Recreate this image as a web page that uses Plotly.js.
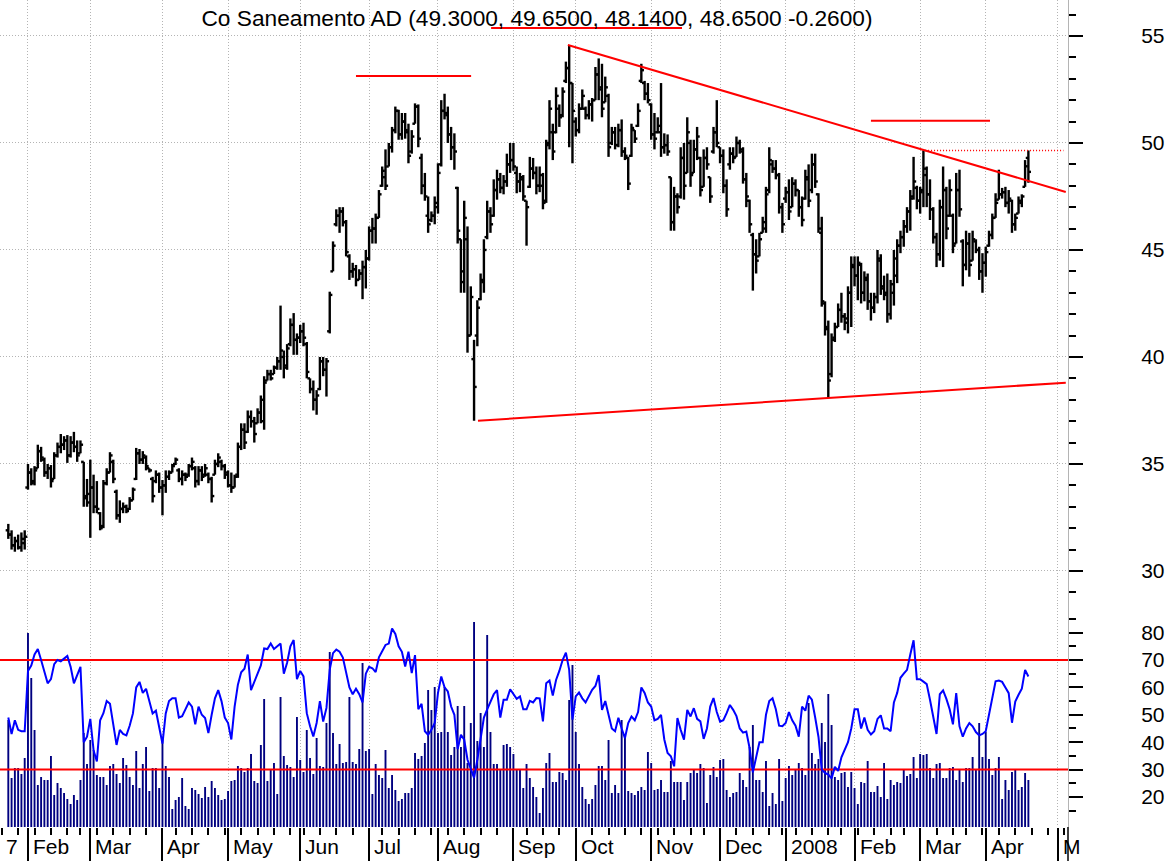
<!DOCTYPE html>
<html><head><meta charset="utf-8">
<script src="https://cdn.plot.ly/plotly-3.0.1.min.js"></script>
<style>html,body{margin:0;padding:0;background:#fff}#chart{width:1166px;height:861px}</style>
</head><body><div id="chart"></div>
<script>
// ---------------- DATA ----------------
const stockName = 'Co Saneamento AD';
const firstDate = '2007-01-24'; // date of bar index 0

const opens = [31.9,31.7,31.2,31.4,31.1,31.3,33.9,34.6,34.2,34.8,
35.6,35.2,34.6,34.8,34.3,35.4,35.8,35.9,36.1,35.4,
36.0,35.8,35.5,35.1,33.5,33.2,33.9,33.0,32.7,32.1,
34.1,34.6,35.1,33.7,32.6,32.9,33.0,32.9,33.3,34.3,
35.5,35.2,35.3,34.8,34.3,34.2,34.5,33.9,34.0,34.4,
34.6,35.0,34.7,34.3,34.5,34.5,34.9,34.8,34.2,34.7,
34.5,34.5,34.3,34.5,35.0,35.1,34.9,34.6,34.0,33.9,
34.5,35.8,36.6,36.5,37.2,37.0,36.9,37.4,37.0,38.9,
39.2,39.2,39.5,39.8,40.0,39.6,40.6,41.5,40.8,40.9,
41.2,40.6,39.0,38.5,38.0,38.5,39.8,39.4,41.2,44.0,
46.2,46.6,46.8,46.3,44.7,44.0,44.1,43.6,43.9,44.2,
44.6,45.9,46.0,46.5,48.0,48.4,48.9,49.8,50.6,51.5,
50.4,51.0,50.5,49.6,50.9,51.7,49.3,48.0,46.6,46.4,
46.6,47.0,49.0,51.5,51.3,50.4,49.8,47.9,45.5,44.0,
45.5,41.0,39.9,41.0,42.7,43.5,45.6,46.8,46.6,47.8,
48.3,47.9,48.2,49.0,49.2,48.6,48.2,48.3,47.3,47.95,
48.8,48.6,48.0,48.0,47.3,50.0,50.5,50.5,51.6,51.3,
52.9,53.5,52.8,51.0,50.6,51.6,51.6,51.3,51.8,52.0,
53.2,52.6,51.9,52.2,50.0,50.5,49.9,50.6,49.6,49.3,
49.4,50.6,50.8,52.9,52.8,52.3,51.8,50.4,50.5,50.5,
49.8,49.9,48.4,46.3,47.5,47.5,49.3,48.6,50.0,48.6,
49.7,49.3,47.95,49.3,48.4,49.6,50.5,49.8,49.4,48.0,
49.0,49.5,49.35,50.0,49.6,48.3,47.3,45.7,44.8,44.7,
45.8,46.0,47.8,49.0,48.8,48.5,47.0,47.4,47.7,47.0,
48.1,47.8,47.0,47.4,48.3,47.8,49.0,47.6,45.8,42.5,
41.3,39.2,40.9,41.4,42.2,41.9,41.8,43.0,44.2,43.8,
44.3,43.0,43.6,42.6,42.3,42.8,44.5,43.2,43.0,42.0,
43.0,43.8,45.2,45.6,46.1,46.8,47.5,47.9,47.3,47.8,
48.5,47.6,46.9,45.6,44.8,47.0,47.8,46.6,46.6,45.3,
47.8,45.4,44.3,45.3,44.5,45.4,45.0,44.0,44.4,45.2,
45.7,46.5,47.35,47.6,47.7,47.2,47.3,46.2,46.7,47.2,
47.95,49.30];

const highs = [32.2,31.9,31.6,31.7,31.8,31.9,35.0,34.8,34.9,35.9,
35.8,35.3,35.0,34.95,35.55,36.0,36.4,36.3,36.35,36.3,
36.5,36.1,36.1,35.1,34.3,35.2,34.5,34.2,32.75,34.25,
34.8,35.55,35.2,33.8,33.3,33.2,33.1,33.45,33.9,35.75,
35.7,35.6,35.4,34.8,34.4,34.7,34.6,34.25,34.7,34.7,
35.0,35.3,34.8,34.7,34.6,35.0,35.3,34.9,34.9,34.9,
35.0,34.6,34.4,35.2,35.5,35.2,35.0,34.7,34.6,34.5,
36.0,36.9,36.9,37.5,37.5,37.2,37.6,38.2,39.1,39.4,
39.4,39.6,40.0,42.4,40.3,40.6,41.8,42.05,41.1,41.5,
41.6,40.7,39.0,38.9,38.45,40.0,40.0,39.95,43.05,45.4,
46.9,47.0,47.0,46.4,44.8,44.4,44.3,44.1,44.5,45.0,
46.1,46.5,46.7,47.8,48.9,49.7,50.0,50.75,51.7,51.55,
51.4,51.4,50.9,50.6,51.85,51.8,49.5,48.6,47.5,46.8,
47.5,49.05,52.0,52.3,51.7,50.75,50.45,47.95,45.5,47.3,
46.1,43.3,40.8,42.65,43.9,45.5,47.3,47.0,48.3,48.75,
48.6,48.5,49.5,50.0,50.0,48.9,48.6,48.5,47.3,49.35,
49.3,48.9,48.9,48.6,50.15,52.0,50.9,52.6,51.8,52.6,
53.8,54.58,52.8,51.2,51.85,52.5,51.7,52.0,52.1,53.55,
53.95,53.7,53.1,52.3,50.75,50.75,50.9,51.1,49.8,49.35,
50.9,50.6,51.85,53.7,52.9,52.8,51.85,51.4,51.2,52.8,
50.45,50.4,48.4,47.95,47.65,49.8,50.0,51.2,50.15,50.15,
50.75,49.35,49.7,49.8,48.4,50.75,52.0,49.8,49.7,48.3,
49.8,49.8,50.3,50.15,49.8,48.6,47.35,45.8,45.5,45.8,
46.55,47.95,49.8,49.2,49.2,48.6,47.2,47.95,48.3,48.4,
48.3,47.8,47.5,48.75,49.0,49.5,49.5,47.65,46.55,42.6,
41.7,41.1,41.6,42.5,43.0,42.05,43.3,44.7,44.7,44.7,
44.4,44.0,43.9,43.0,43.0,45.0,44.8,43.8,43.9,43.6,
45.0,45.5,45.9,46.4,47.0,47.8,49.35,48.0,47.95,49.65,
48.9,48.3,47.0,45.8,47.35,48.9,47.95,48.3,46.7,48.6,
48.75,45.5,45.9,45.8,45.9,45.5,45.15,44.85,45.15,45.9,
46.7,47.65,48.75,47.9,47.95,47.8,47.35,46.7,47.5,47.6,
49.2,49.65];

const lows = [31.5,31.0,30.9,31.0,30.9,31.0,33.8,34.0,34.0,34.8,
35.1,34.4,34.3,33.9,34.3,35.3,35.5,35.65,35.05,35.3,
35.55,35.1,35.5,33.0,33.0,31.55,32.7,32.7,31.9,32.0,
34.0,34.6,34.1,32.4,32.25,32.7,32.7,32.85,33.3,34.25,
35.0,35.0,34.7,34.6,33.2,34.1,33.65,32.6,33.65,34.25,
34.6,34.95,34.15,34.0,34.2,34.4,34.7,33.9,34.0,34.2,
34.4,34.1,33.2,34.5,34.85,34.7,34.3,33.9,33.65,33.9,
34.35,35.65,35.7,36.45,36.7,36.0,36.9,36.9,36.6,38.9,
38.9,39.2,39.4,39.4,39.0,39.4,40.5,40.1,40.1,40.65,
40.5,39.0,38.3,37.5,37.3,38.45,39.1,38.15,41.1,44.0,
46.1,45.8,46.1,44.7,43.6,43.7,43.3,43.6,42.7,43.2,
44.5,45.3,45.3,46.5,47.95,47.8,48.9,49.55,50.45,50.15,
50.15,50.2,49.05,49.5,50.9,49.8,47.6,47.3,45.8,46.3,
46.2,46.7,48.9,51.1,50.0,49.2,48.75,45.3,43.0,43.0,
40.2,41.0,37.02,40.5,42.65,43.0,45.5,45.8,46.55,47.35,
47.65,47.6,47.95,48.6,48.7,47.65,47.7,47.3,45.2,47.9,
48.3,47.6,47.7,46.9,47.2,49.7,49.2,50.45,50.75,51.2,
52.8,49.8,49.05,50.3,50.45,51.55,51.1,51.1,51.0,52.0,
52.0,51.2,51.9,49.35,49.9,49.7,49.8,49.35,49.2,47.8,
49.35,50.0,50.75,52.8,52.0,51.85,50.15,49.7,50.45,49.35,
49.5,49.4,45.9,45.9,46.7,47.4,47.35,48.6,47.95,48.6,
49.2,47.5,47.95,48.75,47.2,49.5,49.8,49.05,47.65,46.55,
48.75,49.05,49.35,49.5,48.1,47.0,45.8,43.1,43.9,44.7,
45.8,45.8,47.65,48.6,48.3,46.7,45.8,47.2,46.4,47.0,
47.5,46.55,46.1,47.35,47.0,47.65,47.9,45.8,42.35,41.0,
38.1,39.05,40.7,41.4,41.6,41.25,41.1,41.4,43.3,42.65,
42.5,42.6,42.2,41.7,42.05,42.5,42.9,42.65,41.6,41.75,
42.4,43.45,44.85,45.15,45.8,45.9,47.35,46.9,46.7,47.0,
47.0,46.4,45.3,44.2,44.5,44.2,45.5,46.55,44.85,45.3,
46.55,43.3,44.05,43.75,44.5,44.85,43.6,43.0,43.75,45.15,
45.5,46.5,47.35,47.4,47.0,46.7,45.8,45.9,46.7,47.0,
47.95,48.14];

const closes = [31.7,31.2,31.4,31.1,31.5,31.6,34.6,34.1,34.7,35.6,
35.3,34.6,34.8,34.2,35.4,35.8,35.9,36.1,35.4,36.0,
35.8,35.4,35.9,33.4,33.6,33.9,33.0,32.9,32.0,34.1,
34.6,35.4,34.3,32.6,32.9,33.0,32.8,33.3,33.8,35.5,
35.2,35.4,34.9,34.7,33.5,34.5,33.9,34.0,34.4,34.6,
34.9,35.2,34.3,34.5,34.4,34.9,35.1,34.2,34.7,34.4,
34.8,34.3,33.5,35.0,35.3,34.9,34.5,34.0,33.9,34.4,
35.8,36.6,36.0,37.2,37.0,36.4,37.4,38.0,38.8,39.2,
39.0,39.5,39.8,40.3,39.5,40.4,41.5,40.8,40.9,41.2,
40.9,39.3,38.5,38.0,38.2,39.8,39.4,39.8,42.9,45.2,
46.6,46.8,46.3,44.9,44.0,44.1,43.6,43.9,44.2,44.6,
45.9,46.0,46.5,47.6,48.7,48.0,49.8,50.6,51.5,50.4,
51.0,50.6,49.4,50.3,51.7,50.2,48.0,47.5,46.2,46.6,
47.2,48.6,51.5,51.4,50.4,49.8,49.6,45.9,43.5,46.5,
41.0,42.8,38.6,42.3,43.6,45.0,46.8,46.2,47.8,48.3,
47.9,48.2,49.0,49.2,48.9,48.2,48.4,47.5,47.0,48.8,
48.6,48.0,48.5,47.2,49.9,51.6,49.6,52.2,51.2,52.4,
53.5,52.8,51.5,50.6,51.6,52.2,51.3,51.8,52.0,53.2,
52.5,51.6,52.6,49.8,50.5,49.9,50.6,49.6,49.4,48.1,
50.7,50.2,51.5,53.4,52.3,52.0,50.4,50.2,50.8,49.8,
49.9,49.6,46.3,47.5,47.0,49.3,48.0,50.5,48.5,49.7,
50.3,47.8,49.3,49.0,47.5,50.5,50.0,49.4,48.0,46.9,
49.5,49.3,50.0,49.7,48.3,47.5,46.2,44.8,44.5,45.5,
46.3,47.6,49.2,48.8,48.5,47.0,46.2,47.7,46.8,48.1,
47.8,47.0,46.4,48.4,47.3,49.0,48.2,46.0,42.6,41.4,
38.9,40.8,41.4,42.2,41.9,41.6,43.0,44.3,43.8,44.4,
43.0,43.7,42.6,42.3,42.8,44.6,43.3,42.9,42.0,43.4,
44.6,45.2,45.6,46.1,46.8,47.4,48.2,47.3,47.7,48.8,
47.6,46.9,45.6,44.8,47.0,47.8,46.0,47.8,45.2,47.8,
46.9,44.3,45.3,44.3,45.5,45.0,44.0,44.4,44.9,45.7,
46.5,47.2,47.6,47.7,47.2,47.4,46.2,46.5,47.3,47.5,
48.91,48.65];

const rsi = [49,43,48,44.5,44,44,66,68,72,74,
70,66,61.5,63,68.5,70,69.5,70.5,71.5,67.5,
61.5,64.5,67.5,40,42,48.5,37,33,48,50.6,
55,54,47,39,44.5,43,42.5,46,50.5,60,
62,58,59.5,55,50.5,51.5,46,39.5,50.5,55,
56,56,49,49.5,52,54.5,53,46.5,53,50,
48.8,43.3,50,56,59,55,49,47,41,53,
61,65.5,66.8,72,59,62,64.5,68,74.2,74,
76,74,75,76,65,69,75,77.3,63,66,
64,50.6,45.8,42.1,47,55,47.5,52.5,66.5,72.5,
73.8,73,70.9,65,60,57.5,59.5,57.5,54.5,65,
67.5,67,65.6,71,73.5,75.5,76,81.5,79.5,75,
73,67.6,73,65.2,71.8,52,54,44,42.7,44.5,
47,58,64,60,58.5,53,50,37.5,42.7,40.9,
33.6,30,27,33.6,41,49,52,55,57.5,59,
49,55.5,55.5,59.3,57.3,55.8,56.7,52,52,55.1,
54.5,56.1,56,47.6,61.5,62.5,57,62.7,66,70,
72.7,66.4,48.2,56.7,58.1,56,54.5,56.7,59.1,60.5,
64.5,51.8,55,50,45,44,48.9,45,41.5,47,
49.4,48,51,60,58,54.5,53,48,48.5,50,
41,36.1,34.9,31.2,48.8,44.5,40.9,51.8,49.4,52.4,
48.5,47.6,41.2,45,53,56.1,51,47.5,48,50.6,
53.6,51.8,49.5,45,43.5,43.9,37.9,29,35,40,
40,50,55,56,52,46,45.8,47,51,48,
46,42,53,51.5,57,55.5,49,42,30,28.8,
28.2,26.8,31,29.5,34.5,37,40,45,52,52,
45,49,44.5,42.8,44,48.5,49.8,45,45,44,
54.5,58,63.5,65,66.4,72,77.2,63,63,62.1,
61.2,55.5,49.5,43,57.5,58.9,55.8,52,46.5,57.9,
45.8,42,45,47,45.8,43.7,42.5,43,44,50,
56,62.2,62.5,62,60,57.9,47.1,54.8,57.3,59.5,
66.4,64];

const volume = [107,49,59,59,53,69,194,149,97,42,
50,47,47,71,32,44,39,34,28,23,
32,27,47,94,63,87,77,52,50,50,
42,61,63,53,44,69,62,50,42,76,
39,63,80,36,59,59,39,90,61,50,
18,27,30,49,21,18,39,37,33,29,
40,30,46,39,32,27,28,36,46,47,
61,59,55,59,73,46,44,82,128,46,
57,64,33,130,71,62,60,50,110,67,
55,97,69,53,89,61,60,104,175,94,
63,83,64,65,130,65,63,78,164,76,
78,33,63,52,49,77,39,52,37,26,
28,34,34,39,74,68,71,84,137,117,
140,94,95,140,95,72,80,121,80,121,
64,104,205,86,114,80,192,95,63,63,
57,82,83,80,73,57,57,39,63,49,
40,30,14,39,64,74,45,45,55,54,
47,127,162,95,63,40,28,23,28,42,
61,61,47,87,34,42,34,107,90,36,
34,32,36,40,37,75,64,37,38,47,
35,35,66,45,45,45,27,45,54,57,
54,63,59,24,52,60,50,67,68,37,
30,34,35,54,47,40,80,102,47,47,
35,66,21,34,23,68,26,49,61,52,
57,64,59,52,124,74,63,68,104,85,
133,102,50,47,54,55,40,55,39,23,
45,44,66,35,35,41,30,64,28,47,
42,45,44,57,51,53,70,49,73,72,
73,59,49,63,64,49,49,59,60,47,
57,45,59,59,70,57,104,70,95,68,
52,59,70,28,47,37,55,57,37,40,
54,47];

// hand-drawn analysis lines: [startBar, startPrice, endBar, endPrice]
const resistanceSegments = [
  [106.0, 53.13, 141.1, 53.13],
  [147.2, 55.37, 205.4, 55.37],
  [263.0, 51.04, 299.3, 51.04]
];
const downTrend = [170.6, 54.58, 322.4, 47.71];
const upTrend = [143.2, 37.02, 322.4, 38.80];
const breakoutLevel = [279.5, 49.65, 321.7, 49.65];
const rsiLevels = [70, 30];

const priceTicks = [30, 35, 40, 45, 50, 55];
const rsiTicks = [20, 30, 40, 50, 60, 70, 80];
const rsiMinorTicks = [15, 25, 35, 45, 55, 65, 75, 85];
const monthNames = ['Jan','Feb','Mar','Apr','May','Jun','Jul','Aug','Sep','Oct','Nov','Dec'];
const holidays = ['2007-01-01','2007-01-02','2007-01-15','2007-02-19','2007-04-06','2007-05-28','2007-07-04',
  '2007-09-03','2007-11-22','2007-12-25','2008-01-01','2008-01-21','2008-02-18','2008-03-21'];

// ---------------- BUILD ----------------
const xRange = [-2.53, 323.08];
const priceRange = [28.41, 56.68];
const rsiRange = [9.05, 90.07];
const volRange = [0, 222];
const lowerDomainTop = 222 / 827;
const plotW = 1068;
const FONT = '"Liberation Sans", Arial, Helvetica, sans-serif';

// trading calendar (bar index = trading-day offset from firstDate)
const days = [];
for (let t = Date.UTC(2007,0,1); t <= Date.UTC(2008,4,9); t += 86400000) {
  const d = new Date(t); const wd = d.getUTCDay();
  if (wd === 0 || wd === 6) continue;
  const s = d.toISOString().slice(0,10);
  if (holidays.includes(s)) continue;
  days.push(d);
}
const pos0 = days.findIndex(d => d.toISOString().slice(0,10) === firstDate);
const monthStarts = [], weekStarts = [];
days.forEach((d, k) => {
  const idx = k - pos0;
  if (k === 0 || d.getUTCMonth() !== days[k-1].getUTCMonth()) monthStarts.push({idx, d});
  if (k === 0 || d.getUTCDay() <= days[k-1].getUTCDay()) weekStarts.push(idx);
});

const n = closes.length;
const idx = closes.map((_, i) => i);

// OHLC bars as line paths (vertical range + open tick left + close tick right)
const tick = 0.8;
const bx = [], by = [];
for (let i = 0; i < n; i++) {
  bx.push(i, i, null, i - tick, i, null, i, i + tick, null);
  by.push(lows[i], highs[i], null, opens[i], opens[i], null, closes[i], closes[i], null);
}

const traces = [];
traces.push({type:'scatter', mode:'lines', x:bx, y:by, xaxis:'x', yaxis:'y',
  line:{color:'#000000', width:2.4}, hoverinfo:'skip', connectgaps:false});

const seg = (s, extra) => Object.assign({type:'scatter', mode:'lines', x:[s[0], s[2]], y:[s[1], s[3]],
  xaxis:'x', yaxis:'y', line:{color:'#ff0000', width:2}, hoverinfo:'skip'}, extra || {});
resistanceSegments.forEach(s => traces.push(seg(s)));
traces.push(seg(downTrend));
traces.push(seg(upTrend));
traces.push(seg(breakoutLevel, {line:{color:'#ff0000', width:1.5, dash:'1px,2px'}}));

traces.push({type:'bar', x:idx, y:volume, xaxis:'x', yaxis:'y2', width:0.58,
  marker:{color:'#000080', line:{width:0}}, hoverinfo:'skip'});
rsiLevels.forEach(v => traces.push({type:'scatter', mode:'lines', x:xRange, y:[v, v], xaxis:'x', yaxis:'y3',
  line:{color:'#ff0000', width:2}, hoverinfo:'skip'}));
traces.push({type:'scatter', mode:'lines', x:idx, y:rsi, xaxis:'x', yaxis:'y3',
  line:{color:'#0000ff', width:2}, hoverinfo:'skip'});

// x-axis labels (month names, year at January); labels that start left of the
// chart keep only their trailing character, as in the original
const span = xRange[1] - xRange[0];
const pxPerBar = plotW / span;
const annotations = [];
monthStarts.forEach(m => {
  if (m.idx >= xRange[1]) return;
  let label = m.d.getUTCMonth() === 0 ? String(m.d.getUTCFullYear()) : monthNames[m.d.getUTCMonth()];
  let xp = (m.idx - xRange[0]) / span, xshift = 3;
  if (m.idx < xRange[0]) {
    if (m.idx < xRange[0] - 20) return;
    label = label.slice(-1); xp = 0; xshift = 4;
  } else if ((xRange[1] - m.idx) * pxPerBar < 30) {
    label = label[0];
  }
  annotations.push({xref:'paper', yref:'paper', x:xp, y:0, xanchor:'left', yanchor:'middle',
    xshift:xshift, yshift:-19, showarrow:false, text:label, font:{family:FONT, size:21, color:'#000'}});
});

const last = n - 1;
const titleText = `${stockName} (${opens[last].toFixed(4)}, ${highs[last].toFixed(4)}, ${lows[last].toFixed(4)}, ` +
  `${closes[last].toFixed(4)} ${(closes[last] - closes[last-1]).toFixed(4)})`;

const gridStyle = {gridcolor:'#b4b4b4', griddash:'1px,2px', gridwidth:1};
const layout = {
  width:1166, height:861,
  margin:{l:0, r:98, t:0, b:34, pad:0},
  paper_bgcolor:'#ffffff', plot_bgcolor:'#ffffff',
  showlegend:false,
  font:{family:FONT, color:'#000'},
  title:{text:titleText, x:537/1166, xanchor:'center', y:1 - 18/861, yanchor:'middle',
    font:{family:FONT, size:22.7, color:'#000'}},
  xaxis:Object.assign({range:xRange, anchor:'y2', showgrid:true, zeroline:false, showline:false,
    tickmode:'array', tickvals:monthStarts.map(m => m.idx), showticklabels:false,
    ticks:'outside', ticklen:34, tickwidth:2, tickcolor:'#000',
    minor:{tickmode:'array', tickvals:weekStarts, ticks:'outside', ticklen:7, tickwidth:2, tickcolor:'#000', showgrid:false},
    fixedrange:true}, gridStyle),
  yaxis:Object.assign({domain:[lowerDomainTop, 1], range:priceRange, side:'right', anchor:'x',
    tickmode:'array', tickvals:priceTicks, ticks:'outside', ticklen:14, tickwidth:2, tickcolor:'#000',
    minor:{dtick:1, tick0:0, ticks:'outside', ticklen:7, tickwidth:2, tickcolor:'#000', showgrid:false},
    showline:true, linecolor:'#b4b4b4', linewidth:1, zeroline:false, showgrid:true,
    tickfont:{family:FONT, size:21, color:'#000'}, ticklabelstandoff:54, fixedrange:true}, gridStyle),
  yaxis2:{domain:[0, lowerDomainTop], range:volRange, visible:false, anchor:'x', fixedrange:true},
  yaxis3:{overlaying:'y2', range:rsiRange, side:'right', anchor:'x',
    tickmode:'array', tickvals:rsiTicks, ticks:'outside', ticklen:14, tickwidth:2, tickcolor:'#000',
    minor:{tickmode:'array', tickvals:rsiMinorTicks, ticks:'outside', ticklen:7, tickwidth:2, tickcolor:'#000', showgrid:false},
    showline:true, linecolor:'#b4b4b4', linewidth:1, zeroline:false, showgrid:false,
    tickfont:{family:FONT, size:21, color:'#000'}, ticklabelstandoff:54, fixedrange:true},
  annotations:annotations,
  shapes:[{type:'line', xref:'paper', yref:'paper', x0:1, x1:1, y0:0, y1:-34/827,
    line:{color:'#000', width:1.5}}]
};

Plotly.newPlot('chart', traces, layout, {staticPlot:true, displayModeBar:false});
</script>
</body></html>
